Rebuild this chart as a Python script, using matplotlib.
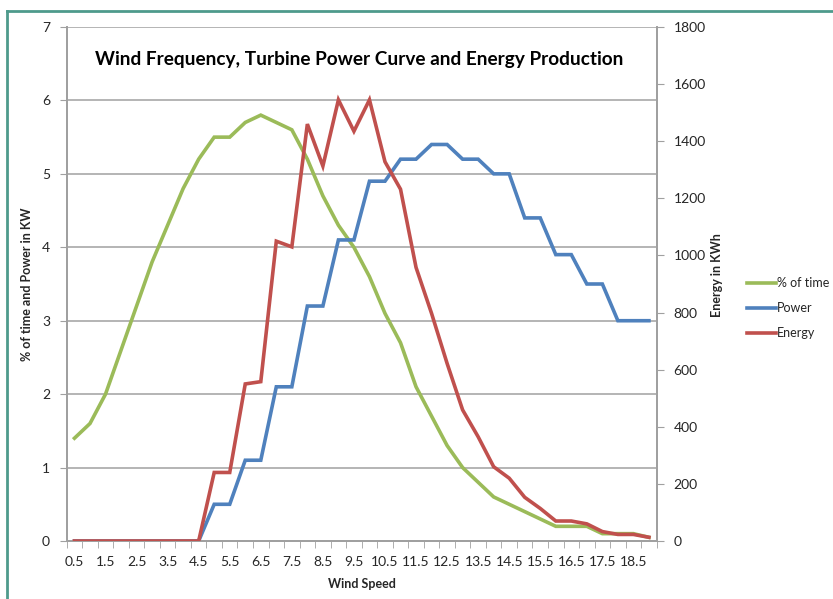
import numpy as np
import matplotlib
matplotlib.use('Agg')
import matplotlib.pyplot as plt
from matplotlib.lines import Line2D

plt.rcParams['font.family'] = ['Lato', 'DejaVu Sans']

# ─── Data ─────────────────────────────────────────────────────────────────────
wind_speed = [0.5, 1, 1.5, 2, 2.5, 3, 3.5, 4, 4.5, 5, 5.5, 6, 6.5, 7, 7.5, 8, 8.5, 9, 9.5,
              10, 10.5, 11, 11.5, 12, 12.5, 13, 13.5, 14, 14.5, 15, 15.5, 16, 16.5, 17,
              17.5, 18, 18.5, 19]
pct_time = [1.4, 1.6, 2.0, 2.6, 3.2, 3.8, 4.3, 4.8, 5.2, 5.5, 5.5, 5.7, 5.8, 5.7, 5.6, 5.2,
            4.7, 4.3, 4.0, 3.6, 3.1, 2.7, 2.1, 1.7, 1.3, 1.0, 0.8, 0.6, 0.5, 0.4, 0.3, 0.2,
            0.2, 0.2, 0.1, 0.1, 0.1, 0.05]
power = [0, 0, 0, 0, 0, 0, 0, 0, 0, 0.5, 0.5, 1.1, 1.1, 2.1, 2.1, 3.2, 3.2, 4.1, 4.1, 4.9,
         4.9, 5.2, 5.2, 5.4, 5.4, 5.2, 5.2, 5.0, 5.0, 4.4, 4.4, 3.9, 3.9, 3.5, 3.5, 3.0,
         3.0, 3.0]
energy = [0, 0, 0, 0, 0, 0, 0, 0, 0, 240, 240, 550, 558, 1050, 1030, 1460, 1313, 1545,
          1435, 1545, 1328, 1232, 958, 797, 622, 459, 365, 260, 220, 153, 114, 70, 70, 60,
          33, 23, 23, 13]

GREEN = '#9BBB59'
BLUE = '#4F81BD'
RED = '#C0504D'
GRID = '#A0A0A0'
TXT = '#262626'

# ─── Figure ───────────────────────────────────────────────────────────────────
fig = plt.figure(figsize=(8.33, 5.99), dpi=100)
W, H = 833, 599
ax = fig.add_axes([66.7 / W, 1 - 541 / H, 590 / W, 514 / H])
ax2 = ax.twinx()

x = np.arange(len(wind_speed))
ax.plot(x, pct_time, color=GREEN, lw=2.6, solid_joinstyle='miter', zorder=3)
ax.plot(x, power, color=BLUE, lw=2.6, solid_joinstyle='miter', zorder=3)
ax2.plot(x, energy, color=RED, lw=2.6, solid_joinstyle='miter', zorder=3)

ax.set_xlim(-0.5, len(wind_speed) - 0.5)
ax.set_ylim(0, 7)
ax2.set_ylim(0, 1800)
ax.set_yticks(range(0, 8))
ax2.set_yticks(range(0, 1801, 200))

ax.set_xticks(x[::2])
ax.set_xticklabels([f'{v:g}' for v in wind_speed[::2]])
ax.set_xticks(np.arange(-0.5, len(wind_speed), 1), minor=True)
ax.tick_params(axis='x', which='major', length=0, pad=11)
ax.tick_params(axis='x', which='minor', length=5, color=GRID, direction='out')
ax.tick_params(axis='y', length=5, color=GRID, pad=7)
ax2.tick_params(axis='y', length=5, color=GRID, pad=7)
for a in (ax, ax2):
    a.tick_params(labelsize=10, labelcolor=TXT)

ax.grid(axis='y', color=GRID, lw=1.1)
ax.set_axisbelow(True)
for a in (ax, ax2):
    a.spines['top'].set_visible(False)
    for s in ('left', 'right', 'bottom'):
        a.spines[s].set_color(GRID)
        a.spines[s].set_linewidth(1.3)

ax.set_xlabel('Wind Speed', fontsize=9, fontweight='bold', color=TXT, labelpad=7)
ax.set_ylabel('% of time and Power in KW', fontsize=9, fontweight='bold', color=TXT)
ax.yaxis.set_label_coords((33 - 66.7) / 590, 0.5)
ax2.set_ylabel('Energy in KWh', fontsize=9, fontweight='bold', color=TXT)
ax2.yaxis.set_label_coords((711 - 66.7) / 590, (541 - 275) / 514)

ax.text((359 - 66.7) / 590, (541 - 60) / 514,
        'Wind Frequency, Turbine Power Curve and Energy Production',
        transform=ax.transAxes, ha='center', va='center',
        fontsize=13.7, fontweight='bold', color='black')

handles = [Line2D([], [], color=c, lw=2.6) for c in (GREEN, BLUE, RED)]
fig.legend(handles, ['% of time', 'Power', 'Energy'], loc='center left',
           bbox_to_anchor=(741 / W, 1 - 308 / H), frameon=False, fontsize=9,
           handlelength=2.3, handletextpad=0.1, labelspacing=1.05,
           labelcolor=TXT, borderpad=0)

# outer chart border (teal)
fig.add_artist(Line2D([7 / W, 7 / W], [0, 1 - 11 / H], transform=fig.transFigure,
                      color='#4E9A8C', lw=2))
fig.add_artist(Line2D([7 / W, 1], [1 - 11 / H, 1 - 11 / H], transform=fig.transFigure,
                      color='#4E9A8C', lw=2))

fig.savefig('out.png', dpi=100)
